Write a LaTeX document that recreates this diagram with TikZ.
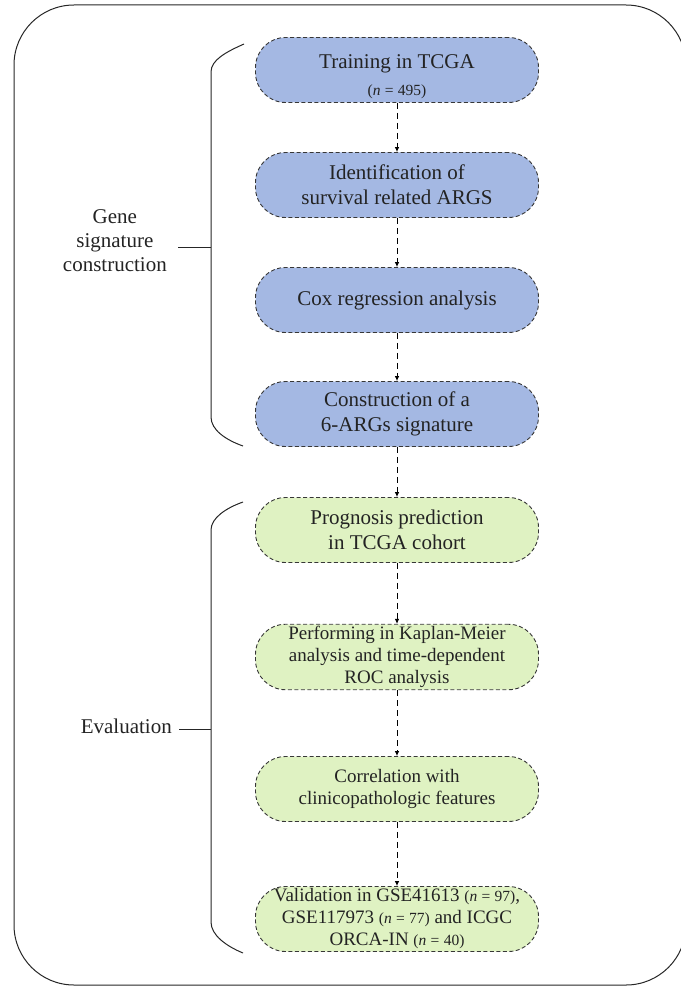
\documentclass[tikz,border=0pt]{standalone}
\usepackage{fontspec}
\setmainfont{Liberation Serif}
\usetikzlibrary{arrows.meta}
\definecolor{bluebox}{RGB}{164,184,227}
\definecolor{greenbox}{RGB}{223,242,194}
\definecolor{edgegray}{RGB}{55,55,55}
\definecolor{txt}{RGB}{35,35,35}
\begin{document}
\begin{tikzpicture}[x=1pt,y=-1pt,
  flow/.style={draw=edgegray, line width=0.9pt, dash pattern=on 4pt off 2.5pt,
    rounded corners=30pt, minimum width=283pt, minimum height=65pt,
    align=center, inner sep=2pt, text=txt},
  bflow/.style={flow, fill=bluebox},
  gflow/.style={flow, fill=greenbox},
  big/.style={font=\fontsize{21}{25}\selectfont},
  small/.style={font=\fontsize{19}{22}\selectfont},
  conn/.style={draw=black, line width=0.8pt, dash pattern=on 6pt off 4pt,
    -{Latex[length=5pt,width=4.5pt]}},
  bracket/.style={draw=black!85, line width=1pt},
  sidelabel/.style={font=\fontsize{21}{24}\selectfont, align=center, text=txt, inner sep=0pt}]
\useasboundingbox (0,0) rectangle (680,987);
% outer frame
\draw[black!85, line width=1pt, rounded corners=60pt] (14,5) rectangle (686,985);

% nodes
\node[bflow, big] (b1) at (397,70) {\raisebox{-12pt}[0pt][0pt]{\begin{tabular}{@{}c@{}}Training in TCGA\\[2pt]{\fontsize{15.5}{17}\selectfont(\textit{n}\;=\;495)}\end{tabular}}};
\node[bflow, big] (b2) at (397,185) {Identification of\\survival related ARGS};
\node[bflow, big] (b3) at (397,300) {Cox regression analysis};
\node[bflow, big] (b4) at (397,414) {Construction of a\\6-ARGs signature};
\node[gflow, big] (g1) at (397,530) {Prognosis prediction\\in TCGA cohort};
\node[gflow, small] (g2) at (397,657) {Performing in Kaplan-Meier\\analysis and time-dependent\\ROC analysis};
\node[gflow, small] (g3) at (397,789) {Correlation with\\clinicopathologic features};
\node[gflow, small] (g4) at (397,919) {Validation in GSE41613 {\fontsize{15.5}{17}\selectfont(\textit{n}\;=\;97)},\\GSE117973 {\fontsize{15.5}{17}\selectfont(\textit{n}\;=\;77)} and ICGC\\ORCA-IN {\fontsize{15.5}{17}\selectfont(\textit{n}\;=\;40)}};

% connectors
\draw[conn] (b1) -- (b2);
\draw[conn] (b2) -- (b3);
\draw[conn] (b3) -- (b4);
\draw[conn] (b4) -- (g1);
\draw[conn] (g1) -- (g2);
\draw[conn] (g2) -- (g3);
\draw[conn] (g3) -- (g4);

% brackets
\coordinate (t1a) at (244,44);
\coordinate (t1b) at (211,72);
\coordinate (t1c) at (211,417);
\coordinate (t1d) at (243,446);
\coordinate (m1) at (211,247);
\coordinate (l1) at (178,247);
\draw[bracket] (t1a) .. controls (226,52) and (211,60) .. (t1b) -- (t1c)
  .. controls (211,430) and (226,440) .. (t1d);
\draw[bracket] (l1) -- (m1);

\coordinate (t2a) at (243,502);
\coordinate (t2b) at (211,530);
\coordinate (t2c) at (211,922);
\coordinate (t2d) at (243,953);
\coordinate (m2) at (211,729);
\coordinate (l2) at (179,729);
\draw[bracket] (t2a) .. controls (226,508) and (211,518) .. (t2b) -- (t2c)
  .. controls (211,935) and (226,946) .. (t2d);
\draw[bracket] (l2) -- (m2);

% side labels
\node[sidelabel, anchor=east] (lab1) at (167,241) {Gene\\signature\\construction};
\node[sidelabel, anchor=east] (lab2) at (172,726) {Evaluation};
\end{tikzpicture}
\end{document}
